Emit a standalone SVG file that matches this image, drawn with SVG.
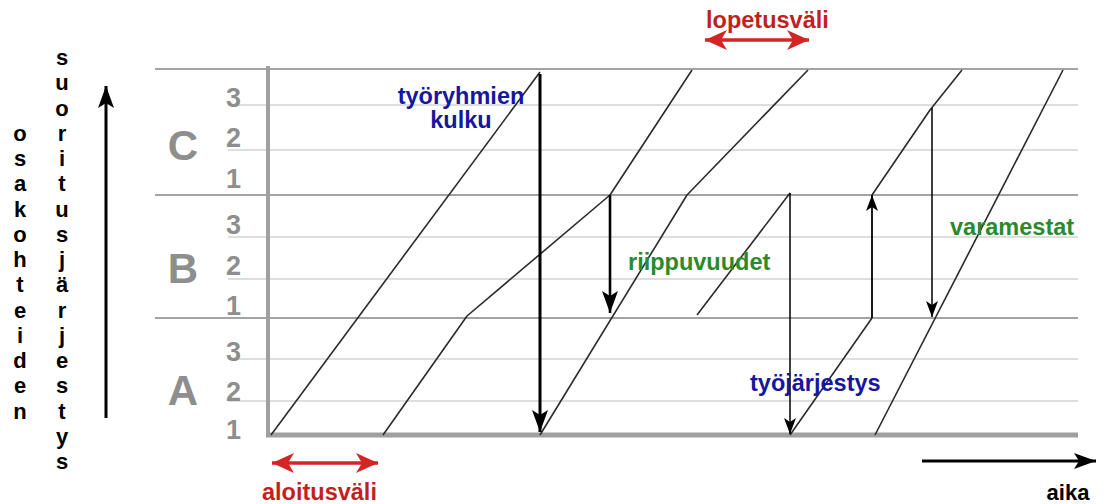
<svg xmlns="http://www.w3.org/2000/svg" width="1110" height="504" viewBox="0 0 1110 504">
<defs>
<style>
.bg{fill:#ffffff}
.dark{stroke:#a3a3a3;stroke-width:1.8;fill:none}
.light{stroke:#dedede;stroke-width:1.8;fill:none}
.axis{stroke:#a0a0a0;fill:none}
.flow{stroke:#2a2a2a;stroke-width:1.6;fill:none;stroke-linejoin:round}
.arr{stroke:#000;fill:none}
.red{stroke:#d42424;stroke-width:3.5;fill:none}
.t{font-family:"Liberation Sans",Arial,sans-serif;font-weight:bold}
.gray{fill:#8e8e8e}
.blue{fill:#16169e;font-size:23.5px}
.green{fill:#2a8a2e;font-size:23.5px}
.redt{fill:#c41e1e;font-size:23.5px}
.blk{fill:#000;font-size:22px}
</style>
<marker id="ahBig" markerUnits="userSpaceOnUse" markerWidth="24" markerHeight="20" refX="22" refY="10" orient="auto">
<path d="M0,2 L22,10 L0,18 L5,10 Z" fill="#000"/>
</marker>
<marker id="ahSmall" markerUnits="userSpaceOnUse" markerWidth="18" markerHeight="14" refX="16" refY="7" orient="auto">
<path d="M0,1 L16,7 L0,13 L4,7 Z" fill="#000"/>
</marker>
<marker id="ahRed" markerUnits="userSpaceOnUse" markerWidth="26" markerHeight="22" refX="22" refY="11" orient="auto-start-reverse">
<path d="M0,1 L22,11 L0,21 L6,11 Z" fill="#d42424"/>
</marker>
</defs>
<rect class="bg" x="0" y="0" width="1110" height="504"/>

<g id="grid">
<line class="light" x1="228" y1="105" x2="1078" y2="105"/>
<line class="light" x1="228" y1="150" x2="1078" y2="150"/>
<line class="light" x1="228" y1="237" x2="1078" y2="237"/>
<line class="light" x1="228" y1="279" x2="1078" y2="279"/>
<line class="light" x1="228" y1="359" x2="1078" y2="359"/>
<line class="light" x1="228" y1="401" x2="1078" y2="401"/>
<line class="dark" x1="155" y1="69" x2="1078" y2="69"/>
<line class="dark" x1="155" y1="195" x2="1078" y2="195"/>
<line class="dark" x1="155" y1="318" x2="1078" y2="318"/>
<line class="axis" x1="268" y1="66" x2="268" y2="437" stroke-width="4"/>
<line class="axis" x1="266" y1="435" x2="1078" y2="435" stroke-width="5"/>
</g>

<g id="row-labels" class="t gray">
<text x="183" y="160" font-size="42" text-anchor="middle">C</text>
<text x="183" y="283" font-size="42" text-anchor="middle">B</text>
<text x="183" y="405" font-size="42" text-anchor="middle">A</text>
<g font-size="27" text-anchor="end">
<text x="241" y="107">3</text>
<text x="241" y="147">2</text>
<text x="241" y="188">1</text>
<text x="241" y="234">3</text>
<text x="241" y="275">2</text>
<text x="241" y="315">1</text>
<text x="241" y="361">3</text>
<text x="241" y="401">2</text>
<text x="241" y="439">1</text>
</g>
</g>

<g id="y-axis-label">
<text class="t blk" text-anchor="middle"><tspan x="62" y="65">s</tspan><tspan x="62" dy="25.25">u</tspan><tspan x="62" dy="25.25">o</tspan><tspan x="62" dy="25.25">r</tspan><tspan x="62" dy="25.25">i</tspan><tspan x="62" dy="25.25">t</tspan><tspan x="62" dy="25.25">u</tspan><tspan x="62" dy="25.25">s</tspan><tspan x="62" dy="25.25">j</tspan><tspan x="62" dy="25.25">ä</tspan><tspan x="62" dy="25.25">r</tspan><tspan x="62" dy="25.25">j</tspan><tspan x="62" dy="25.25">e</tspan><tspan x="62" dy="25.25">s</tspan><tspan x="62" dy="25.25">t</tspan><tspan x="62" dy="25.25">y</tspan><tspan x="62" dy="25.25">s</tspan></text>
<text class="t blk" text-anchor="middle"><tspan x="20" y="140.75">o</tspan><tspan x="20" dy="25.25">s</tspan><tspan x="20" dy="25.25">a</tspan><tspan x="20" dy="25.25">k</tspan><tspan x="20" dy="25.25">o</tspan><tspan x="20" dy="25.25">h</tspan><tspan x="20" dy="25.25">t</tspan><tspan x="20" dy="25.25">e</tspan><tspan x="20" dy="25.25">i</tspan><tspan x="20" dy="25.25">d</tspan><tspan x="20" dy="25.25">e</tspan><tspan x="20" dy="25.25">n</tspan></text>
</g>

<g id="flows">
<polyline class="flow" points="271,435 540,72"/>
<polyline class="flow" points="383,435 467,316 610,195 692,70"/>
<polyline class="flow" points="540,435 687,195 808,70"/>
<polyline class="flow" points="697,315 790,193"/>
<polyline class="flow" points="790,435 872,318"/>
<polyline class="flow" points="872,195 930,110 962,70"/>
<polyline class="flow" points="875,435 1063,70"/>
</g>

<g id="connectors">
<line class="arr" x1="106" y1="418" x2="106" y2="86" stroke-width="3" marker-end="url(#ahBig)"/>
<line class="arr" x1="922" y1="461" x2="1096" y2="461" stroke-width="3" marker-end="url(#ahBig)"/>
<line class="arr" x1="540" y1="74" x2="540" y2="432" stroke-width="3" marker-end="url(#ahBig)"/>
<line class="arr" x1="610" y1="195" x2="610" y2="313" stroke-width="2.6" marker-end="url(#ahBig)"/>
<line class="arr" x1="790" y1="193" x2="790" y2="434" stroke-width="1.5" marker-end="url(#ahSmall)"/>
<line class="arr" x1="872" y1="318" x2="872" y2="195" stroke-width="1.8" marker-end="url(#ahSmall)"/>
<line class="arr" x1="932" y1="108" x2="932" y2="317" stroke-width="1.5" marker-end="url(#ahSmall)"/>
<line class="red" x1="272" y1="463" x2="378" y2="463" marker-start="url(#ahRed)" marker-end="url(#ahRed)"/>
<line class="red" x1="705" y1="40" x2="809" y2="40" marker-start="url(#ahRed)" marker-end="url(#ahRed)"/>
</g>

<g id="label-tyoryhmien">
<text class="t blue" x="461" y="104" text-anchor="middle">työryhmien</text>
<text class="t blue" x="461" y="128" text-anchor="middle">kulku</text>
</g>
<g id="label-riippuvuudet"><text class="t green" x="628" y="270">riippuvuudet</text></g>
<g id="label-tyojarjestys"><text class="t blue" x="750" y="391">työjärjestys</text></g>
<g id="label-varamestat"><text class="t green" x="950" y="235">varamestat</text></g>
<g id="label-lopetusvali"><text class="t redt" x="706" y="28">lopetusväli</text></g>
<g id="label-aloitusvali"><text class="t redt" x="262" y="500">aloitusväli</text></g>
<g id="label-aika"><text class="t blk" x="1068" y="500" font-size="23" text-anchor="middle">aika</text></g>
</svg>
